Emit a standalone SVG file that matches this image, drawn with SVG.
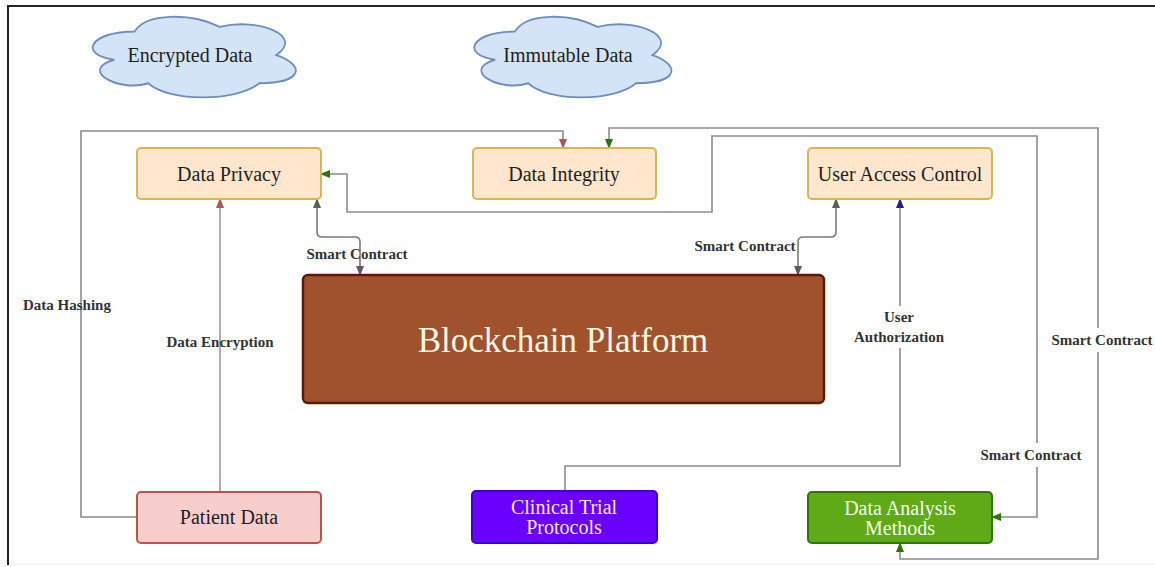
<svg xmlns="http://www.w3.org/2000/svg" width="1155" height="567" viewBox="0 0 1155 567">
  <style>
    .node-text { font-family: "Liberation Serif", "Times New Roman", serif; font-size: 20px; fill: #1E1E1E; text-anchor: middle; dominant-baseline: central; }
    .label { font-family: "Liberation Serif", "Times New Roman", serif; font-size: 15px; font-weight: bold; fill: #333; text-anchor: middle; dominant-baseline: central; }
    .cloud { fill: #D4E4F7; stroke: #6C8EBF; stroke-width: 1.6; }
    .amber { fill: #FFE6CC; stroke: #D6B656; stroke-width: 2; }
    .conn { fill: none; stroke-width: 1.6; }
    .gray { stroke: #8C8C8C; }
    .frame { stroke: #222; stroke-width: 2; fill: none; }
  </style>
  <defs>
    <marker id="arrow-red" markerUnits="userSpaceOnUse" markerWidth="10" markerHeight="10" viewBox="0 0 10 10" refX="9" refY="5" orient="auto-start-reverse">
      <path d="M0 1 L10 5 L0 9 Z" fill="#B0545A"/>
    </marker>
    <marker id="arrow-gray" markerUnits="userSpaceOnUse" markerWidth="10" markerHeight="10" viewBox="0 0 10 10" refX="9" refY="5" orient="auto-start-reverse">
      <path d="M0 1 L10 5 L0 9 Z" fill="#5E5E5E"/>
    </marker>
    <marker id="arrow-green" markerUnits="userSpaceOnUse" markerWidth="10" markerHeight="10" viewBox="0 0 10 10" refX="9" refY="5" orient="auto-start-reverse">
      <path d="M0 1 L10 5 L0 9 Z" fill="#2D7600"/>
    </marker>
    <marker id="arrow-blue" markerUnits="userSpaceOnUse" markerWidth="10" markerHeight="10" viewBox="0 0 10 10" refX="9" refY="5" orient="auto-start-reverse">
      <path d="M0 1 L10 5 L0 9 Z" fill="#2A1A99"/>
    </marker>
    <path id="cloud-shape" d="M51.75 20 C10.35 20 0 40 33.12 44 C0 52.8 37.26 72 64.17 64 C82.8 80 144.9 80 165.6 64 C207 64 207 48 181.1 40 C207 24 165.6 8 129.4 16 C103.5 4 62.1 4 51.75 20 Z"/>
  </defs>

  <rect x="0" y="0" width="1155" height="567" fill="#FFFFFF"/>
  <!-- page frame -->
  <path class="frame" d="M8 565 L8 6 L1155 6"/>
  <line x1="9" y1="564" x2="1155" y2="564" stroke="#EEEEEE" stroke-width="1"/>

  <!-- connectors -->
  <g id="connectors">
    <!-- Patient Data -> Data Integrity (hashing) -->
    <path class="conn gray" d="M137 517 L81 517 L81 131 L563 131 L563 148" marker-end="url(#arrow-red)"/>
    <!-- Patient Data -> Data Privacy (encryption) -->
    <path class="conn" stroke="#A89094" d="M220 492 L220 199" marker-end="url(#arrow-red)"/>
    <!-- Data Privacy <-> Blockchain -->
    <path class="conn" stroke="#7A7A7A" d="M317 199 L317 232 Q317 237 322 237 L355 237 Q360 237 360 242 L360 275" marker-start="url(#arrow-gray)" marker-end="url(#arrow-gray)"/>
    <!-- User Access Control <-> Blockchain -->
    <path class="conn" stroke="#7A7A7A" d="M836 199 L836 232 Q836 237 831 237 L803 237 Q798 237 798 242 L798 275" marker-start="url(#arrow-gray)" marker-end="url(#arrow-gray)"/>
    <!-- Data Analysis <-> Data Privacy -->
    <path class="conn gray" d="M992 517 L1037 517 L1037 136 L712 136 L712 212 L347 212 L347 174 L321 174" marker-start="url(#arrow-green)" marker-end="url(#arrow-green)"/>
    <!-- Data Integrity <-> Data Analysis -->
    <path class="conn gray" d="M609 148 L609 128 L1098 128 L1098 559 L900 559 L900 543" marker-start="url(#arrow-green)" marker-end="url(#arrow-green)"/>
    <!-- Clinical Trial -> User Access Control -->
    <path class="conn" stroke="#8C8A98" d="M565 491 L565 466 L900 466 L900 199" marker-end="url(#arrow-blue)"/>

    <!-- connector labels -->
    <text class="label" x="67" y="305">Data Hashing</text>
    <text class="label" x="220" y="342">Data Encryption</text>
    <text class="label" x="357" y="254">Smart Contract</text>
    <text class="label" x="745" y="246">Smart Contract</text>
    <rect x="856" y="306" width="88" height="42" fill="#FFFFFF"/>
    <text class="label" x="899" y="317">User</text>
    <text class="label" x="899" y="337">Authorization</text>
    <rect x="1049" y="328" width="106" height="24" fill="#FFFFFF"/>
    <text class="label" x="1102" y="340">Smart Contract</text>
    <rect x="978" y="443" width="106" height="24" fill="#FFFFFF"/>
    <text class="label" x="1031" y="455">Smart Contract</text>
  </g>

  <!-- clouds -->
  <g id="encrypted-data">
    <use href="#cloud-shape" class="cloud" vector-effect="non-scaling-stroke" transform="translate(78 8) scale(1.095 1.176)"/>
    <text class="node-text" x="190" y="55">Encrypted Data</text>
  </g>
  <g id="immutable-data">
    <use href="#cloud-shape" class="cloud" vector-effect="non-scaling-stroke" transform="translate(460 8) scale(1.063 1.176)"/>
    <text class="node-text" x="568" y="55">Immutable Data</text>
  </g>

  <!-- upper row -->
  <g id="data-privacy">
    <rect class="amber" x="137" y="148" width="184" height="51" rx="4"/>
    <text class="node-text" x="229" y="174">Data Privacy</text>
  </g>
  <g id="data-integrity">
    <rect class="amber" x="473" y="148" width="183" height="51" rx="4"/>
    <text class="node-text" x="564" y="174">Data Integrity</text>
  </g>
  <g id="user-access-control">
    <rect class="amber" x="808" y="148" width="184" height="51" rx="4"/>
    <text class="node-text" x="900" y="174">User Access Control</text>
  </g>

  <!-- central platform -->
  <g id="blockchain-platform">
    <rect x="303" y="275" width="521" height="128" rx="5" fill="#A0522D" stroke="#5E1A00" stroke-width="2.5"/>
    <text class="node-text" x="563" y="340" style="font-size:35px; fill:#FFF6E6">Blockchain Platform</text>
  </g>

  <!-- lower row -->
  <g id="patient-data">
    <rect x="137" y="492" width="184" height="51" rx="4" fill="#F8CECC" stroke="#B85450" stroke-width="2"/>
    <text class="node-text" x="229" y="517">Patient Data</text>
  </g>
  <g id="clinical-trial-protocols">
    <rect x="472" y="491" width="185" height="52" rx="4" fill="#6A00FF" stroke="#3700CC" stroke-width="2"/>
    <text class="node-text" x="564" y="507" style="fill:#F2E6FF">Clinical Trial</text>
    <text class="node-text" x="564" y="527" style="fill:#F2E6FF">Protocols</text>
  </g>
  <g id="data-analysis-methods">
    <rect x="808" y="492" width="184" height="51" rx="4" fill="#60A917" stroke="#2D7600" stroke-width="2"/>
    <text class="node-text" x="900" y="508" style="fill:#F4FFEC">Data Analysis</text>
    <text class="node-text" x="900" y="528" style="fill:#F4FFEC">Methods</text>
  </g>
</svg>
